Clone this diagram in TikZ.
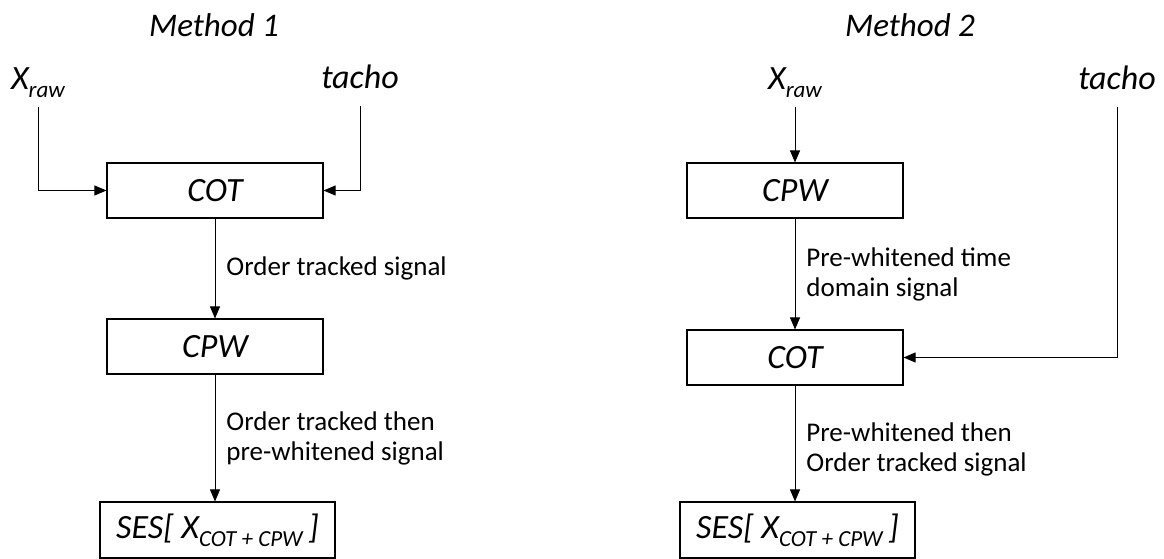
\documentclass[tikz,border=0pt]{standalone}
\usepackage{fontspec}
\setmainfont{Carlito}
\usetikzlibrary{arrows.meta}
\newcommand{\sub}[1]{\raisebox{-8pt}{\fontsize{23}{23}\selectfont #1}}
\begin{document}
\begin{tikzpicture}[x=1pt,y=-1pt,
  blk/.style={draw,line width=1.1pt,minimum width=216pt,minimum height=55pt,inner sep=0pt,font=\fontsize{34}{40}\selectfont\itshape},
  inp/.style={inner sep=0pt,anchor=base,text depth=17pt,font=\fontsize{34}{40}\selectfont\itshape},
  ttl/.style={font=\fontsize{33}{40}\selectfont\itshape},
  lbl/.style={right,inner sep=0pt,xshift=11pt,align=left,font=\fontsize{27}{30}\selectfont},
  arr/.style={-{Triangle[length=12pt,width=10pt]},line width=0.9pt}]
\useasboundingbox (0,0) rectangle (1164,559);
% Method 1
    \node[ttl] (ttl1) at (214,25) {Method 1};
    \node[inp] (xraw1) at (38,90) {X\sub{raw}};
    \node[inp] (tacho1) at (360,89) {tacho};
    \node[blk] (cot1) at (215,190.5) {COT};
    \node[blk] (cpw1) at (215,346.5) {CPW};
    \node[blk,minimum width=235pt,minimum height=56pt] (ses1) at (217.5,530) {SES[ X\sub{COT + CPW}\,]};
		\draw[arr] (xraw1.south) |- (cot1.west);
		\draw[arr] (tacho1.south) |- (cot1.east);
		\draw[arr] (cot1) -- node[lbl] {Order tracked signal} (cpw1);
		\draw[arr] (cpw1.south) -- node[lbl] {Order tracked then\\pre-whitened signal} (cpw1.south |- ses1.north);
% Method 2
    \node[ttl] (ttl2) at (910,25) {Method 2};
    \node[inp] (xraw2) at (795,90) {X\sub{raw}};
    \node[inp] (tacho2) at (1117,90) {tacho};
    \node[blk] (cpw2) at (795,190.5) {CPW};
    \node[blk] (cot2) at (795,357.5) {COT};
    \node[blk,minimum width=235pt,minimum height=56pt] (ses2) at (797.5,530) {SES[ X\sub{COT + CPW}\,]};
		\draw[arr] (xraw2.south) -- (cpw2.north);
		\draw[arr] (cpw2) -- node[lbl] {Pre-whitened time\\domain signal} (cot2);
		\draw[arr] (tacho2.south) |- (cot2.east);
		\draw[arr] (cot2.south) -- node[lbl,yshift=-6pt] {Pre-whitened then\\Order tracked signal} (cot2.south |- ses2.north);
\end{tikzpicture}
\end{document}
